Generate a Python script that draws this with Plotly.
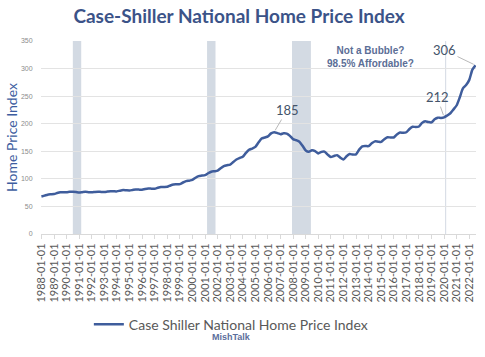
import plotly.graph_objects as go

# Quarterly readings (Jan, Apr, Jul, Oct) of the Case-Shiller National Home Price Index
dates = []
years = list(range(1988, 2023))
months = ["01", "04", "07", "10"]
values_by_year = {
    1988: [68.0, 69.6, 71.3, 72.0],
    1989: [72.6, 74.2, 75.6, 75.8],
    1990: [75.9, 76.6, 76.8, 76.2],
    1991: [75.3, 75.9, 76.4, 75.9],
    1992: [75.6, 76.3, 76.8, 76.3],
    1993: [76.1, 76.9, 77.7, 77.4],
    1994: [77.3, 78.6, 79.6, 79.2],
    1995: [78.9, 79.8, 80.8, 80.5],
    1996: [80.4, 81.7, 82.5, 82.2],
    1997: [82.2, 83.8, 85.2, 85.3],
    1998: [85.6, 88.0, 89.9, 90.1],
    1999: [90.5, 93.4, 95.9, 96.7],
    2000: [98.0, 102.0, 105.0, 105.9],
    2001: [106.8, 110.2, 113.0, 113.8],
    2002: [114.9, 119.4, 123.1, 124.7],
    2003: [125.8, 130.5, 135.2, 137.8],
    2004: [140.0, 147.0, 152.9, 155.0],
    2005: [158.0, 166.0, 173.0, 175.0],
    2006: [177.0, 182.5, 184.6, 183.0],
    2007: [181.0, 182.5, 182.0, 178.0],
    2008: [172.0, 170.0, 167.5, 160.0],
    2009: [151.5, 149.0, 152.0, 150.5],
    2010: [146.0, 149.0, 149.5, 144.0],
    2011: [139.5, 141.5, 143.0, 138.5],
    2012: [135.0, 141.0, 145.0, 144.0],
    2013: [144.5, 153.0, 159.0, 159.5],
    2014: [159.5, 164.5, 168.0, 167.5],
    2015: [167.0, 172.0, 175.5, 175.0],
    2016: [175.0, 180.5, 184.0, 183.5],
    2017: [184.5, 190.5, 194.5, 194.0],
    2018: [195.0, 201.5, 204.5, 203.0],
    2019: [202.5, 208.0, 211.0, 210.5],
    2020: [211.5, 215.0, 219.0, 226.0],
    2021: [233.5, 248.0, 264.0, 270.0],
    2022: [279.5, 298.0, 306.0],
}
index_values = []
for y in years:
    for m, v in zip(months, values_by_year[y]):
        dates.append(f"{y}-{m}-01")
        index_values.append(v)

# Recession periods
recession_starts = ["1990-07-01", "2001-03-01", "2007-12-01", "2020-02-01"]
recession_ends = ["1991-03-01", "2001-11-01", "2009-06-01", "2020-03-01"]

# Labelled points
label_dates = ["2006-07-01", "2020-01-01", "2022-07-01"]
label_values = [185, 212, 306]
label_texts = ["185", "212", "306"]
label_ax = [13, -7, -31]
label_ay = [-22, -20, -15]

tick_labels = [f"{y}-01-01" for y in range(1988, 2023)]

LINE = "#3f5d9c"
BAND = "#d3dae3"

fig = go.Figure()
fig.add_trace(go.Scatter(
    x=dates, y=index_values, mode="lines",
    name="Case Shiller National Home Price Index",
    line=dict(color=LINE, width=2.5, shape="spline", smoothing=0.6),
))

for s, e in zip(recession_starts, recession_ends):
    fig.add_shape(type="rect", xref="x", yref="y", x0=s, x1=e, y0=0, y1=350,
                  fillcolor=BAND, line=dict(width=0), layer="below")

for d, v, t, ax, ay in zip(label_dates, label_values, label_texts, label_ax, label_ay):
    fig.add_annotation(x=d, y=v, text=t, showarrow=True, arrowhead=0,
                       arrowwidth=0.8, arrowcolor="#a6a6a6", ax=ax, ay=ay,
                       font=dict(family="Lato, Liberation Sans", size=13, color="#44546a"),
                       standoff=2)

fig.add_annotation(x="2014-03-01", y=321, xref="x", yref="y",
                   text="<b>Not a Bubble?<br>98.5% Affordable?</b>", showarrow=False,
                   font=dict(family="Liberation Sans, Arial", size=10, color="#5b6e96"),
                   align="center")

fig.add_annotation(x=-0.068, y=0.5, xref="paper", yref="paper", textangle=-90,
                   xanchor="center", yanchor="middle",
                   text="Home Price Index", showarrow=False,
                   font=dict(family="Lato, Liberation Sans", size=14, color="#3d5da0"))

fig.add_annotation(x=0.438, y=-0.535, xref="paper", yref="paper",
                   xanchor="center", yanchor="middle",
                   text="<b>MishTalk</b>", showarrow=False,
                   font=dict(family="Liberation Sans, Arial", size=9, color="#5b6e9c"))

fig.update_layout(
    width=485, height=357,
    margin=dict(l=41, r=9, t=41, b=123, autoexpand=False),
    paper_bgcolor="white", plot_bgcolor="white",
    title=dict(text="<b>Case-Shiller National Home Price Index</b>",
               x=0.493, xanchor="center", y=0.955, yanchor="middle",
               font=dict(family="Lato, Liberation Sans", size=19, color="#3b5388")),
    showlegend=True,
    legend=dict(orientation="h", x=0.11, xanchor="left", y=-0.47, yanchor="middle",
                font=dict(family="Lato, Liberation Sans", size=14, color="#595959"),
                bgcolor="rgba(0,0,0,0)"),
    xaxis=dict(type="date", range=["1987-12-20", "2022-07-15"],
               automargin=False,
               tickmode="array",
               tickvals=tick_labels, ticktext=tick_labels,
               tickangle=-90,
               tickfont=dict(family="Lato, Liberation Sans", size=11, color="#595959"),
               showgrid=False, showline=True, linecolor="#d9d9d9", linewidth=1,
               ticks="outside", ticklen=4, tickcolor="#d9d9d9"),
    yaxis=dict(range=[0, 350], tickvals=[0, 50, 100, 150, 200, 250, 300, 350],
               automargin=False,
               tickfont=dict(family="Liberation Sans", size=7, color="#8c8c8c"),
               showgrid=True, gridcolor="#e3e3e3", gridwidth=1,
               zeroline=False, showline=False,
               ticks="outside", ticklen=6, tickcolor="rgba(0,0,0,0)"),
)

fig.write_html("out.html", config={"displayModeBar": False},
               post_script="document.body.style.margin='0';")
